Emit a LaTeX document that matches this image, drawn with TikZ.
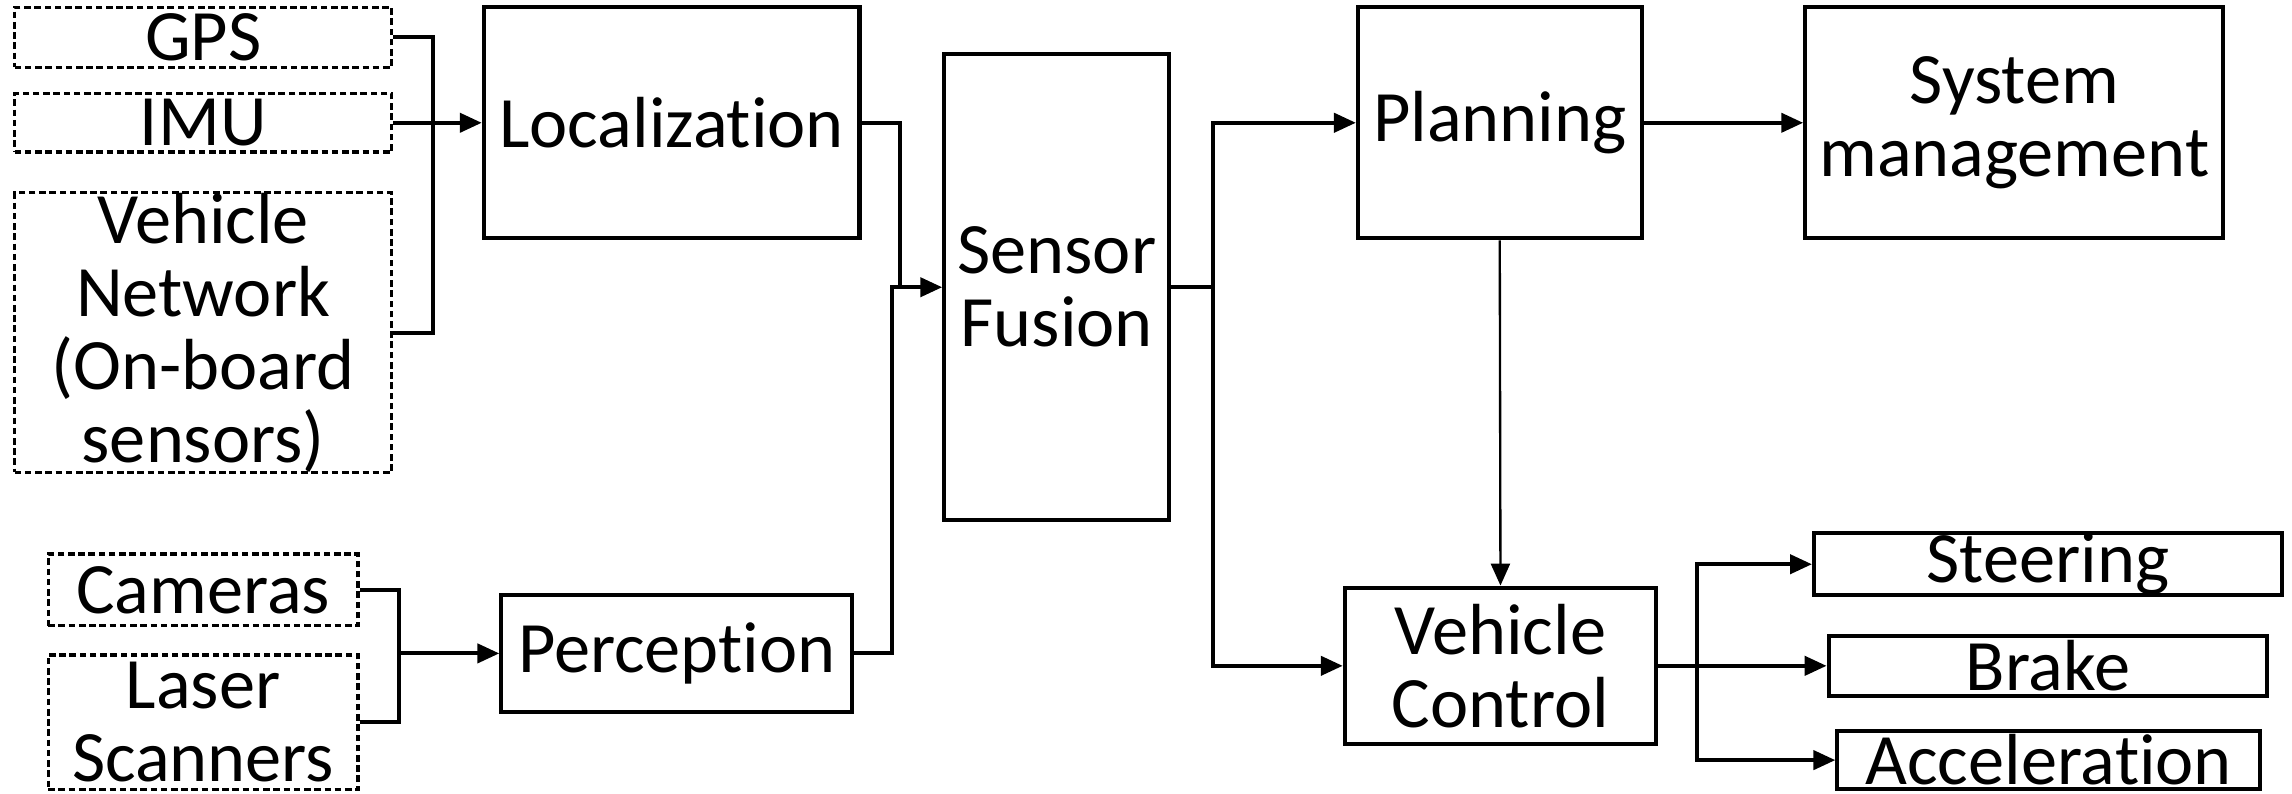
\documentclass[tikz,border=0pt]{standalone}
\usepackage{fontspec}
\setmainfont[Ligatures={NoCommon}]{Carlito}
\usetikzlibrary{arrows.meta,calc}
\begin{document}
\begin{tikzpicture}[x=1pt,y=-1pt,
  every node/.style={font=\fontsize{49.5}{50}\selectfont, inner sep=0pt, align=center},
  box/.style={draw, line width=2.8pt},
  dbox/.style={draw, line width=2.3pt, dash pattern=on 4.5pt off 2.5pt},
  conn/.style={line width=2.8pt},
  arr/.style={line width=2.8pt, -{Triangle[length=15pt,width=13pt]}},
  thinarr/.style={line width=1.6pt, -{Triangle[length=15pt,width=13pt]}}
]
\useasboundingbox (0,0) rectangle (1568,543);
% inputs
\node[dbox, minimum width=258pt, minimum height=41pt] (gps) at (139,25.5) {GPS};
\node[dbox, minimum width=258pt, minimum height=40pt] (imu) at (139,84) {IMU};
\node[dbox, minimum width=258pt, minimum height=191pt] (vn) at (139,227.5) {Vehicle\\Network\\(On-board\\sensors)};
\node[dbox, minimum width=212pt, minimum height=49pt] (cam) at (139,403.5) {Cameras};
\node[dbox, minimum width=212pt, minimum height=92pt] (laser) at (139,494) {Laser\\Scanners};
% main blocks
\node[box, minimum width=257pt, minimum height=158pt] (loc) at (459.5,84) {Localization};
\node[box, minimum width=240pt, minimum height=80pt] (perc) at (463,447) {Perception};
\node[box, minimum width=154pt, minimum height=319pt] (sf) at (723,196.5) {Sensor\\Fusion};
\node[box, minimum width=194pt, minimum height=158pt] (plan) at (1026,84) {Planning};
\node[box, minimum width=286pt, minimum height=158pt] (sys) at (1378,84) {System\\management};
\node[box, minimum width=213pt, minimum height=107pt] (vc) at (1026.5,455.5) {Vehicle\\Control};
\node[box, minimum width=320pt, minimum height=42pt] (steer) at (1401,386) {Steering};
\node[box, minimum width=300pt, minimum height=41pt] (brake) at (1401,455.5) {Brake};
\node[box, minimum width=289pt, minimum height=40pt] (acc) at (1401.5,520) {Acceleration};
% junction coordinates
\coordinate (j1) at (296,84);
\coordinate (j2) at (616,196.5);
\coordinate (j3) at (610,196.5);
\coordinate (j4) at (273,447);
\coordinate (j5) at (830,196.5);
\coordinate (j6) at (1161,455.5);
% connectors
\draw[conn] (gps.east) -| (j1) |- (vn.east);
\draw[arr] (imu.east) -- (loc.west);
\draw[conn] (cam.east) -| (j4) |- (laser.east);
\draw[arr] (j4) -- (perc.west);
\draw[conn] (loc.east) -| (j2);
\draw[arr] (perc.east) -| (j3) -- (sf.west);
\draw[conn] (sf.east) -- (j5);
\draw[arr] (j5) |- (plan.west);
\draw[arr] (j5) |- (vc.west);
\draw[arr] (plan.east) -- (sys.west);
\draw[thinarr] (plan.south) -- (vc.north);
\draw[arr] (vc.east) -- (brake.west);
\draw[arr] (j6) |- (steer.west);
\draw[arr] (j6) |- (acc.west);
\end{tikzpicture}
\end{document}
